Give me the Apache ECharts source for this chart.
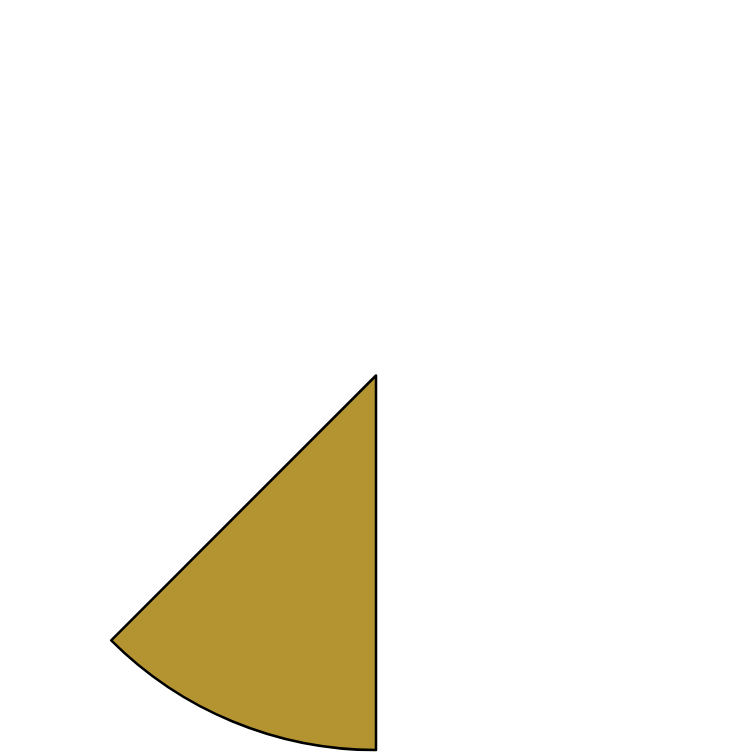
<!DOCTYPE html>
<html>
<head>
<meta charset="utf-8">
<script src="https://cdn.jsdelivr.net/npm/echarts@6/dist/echarts.min.js"></script>
<style>
  html, body { margin: 0; padding: 0; background: #fff; }
  #main { width: 752px; height: 753px; }
</style>
</head>
<body>
<div id="main"></div>
<script>
// slices, clockwise from 12 o'clock; only one is drawn
const sliceNames = ['before', 'shown', 'after'];
const sliceValues = [4, 1, 3];
const sliceVisible = [false, true, false];

const chart = echarts.init(document.getElementById('main'));

const pieData = sliceNames.map((name, i) => {
  let item = { name: name, value: sliceValues[i] };
  if (sliceVisible[i]) {
    item.itemStyle = { color: '#b39431', borderColor: '#000', borderWidth: 2.5 };
  } else {
    item.itemStyle = { color: 'rgba(0,0,0,0)', borderWidth: 0 };
  }
  return item;
});

chart.setOption({
  animation: false,
  series: [{
    type: 'pie',
    center: [376, 375.5],
    radius: [0, 374.5],
    startAngle: 90,
    clockwise: true,
    avoidLabelOverlap: false,
    label: { show: false },
    labelLine: { show: false },
    emphasis: { disabled: true },
    data: pieData
  }]
});
</script>
</body>
</html>
